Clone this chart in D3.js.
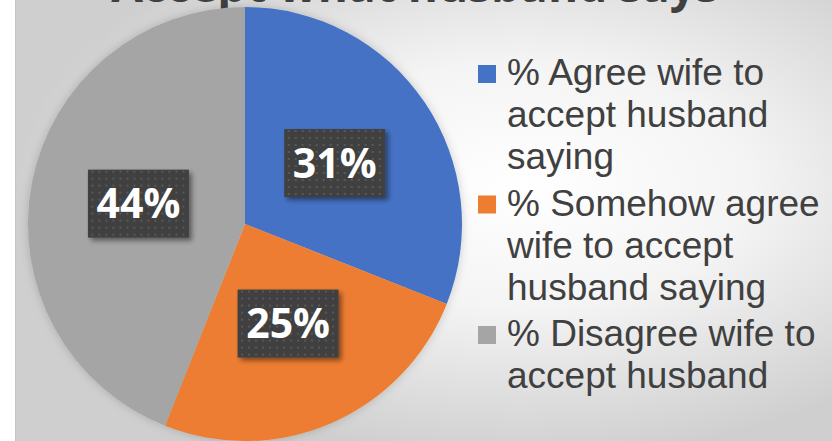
<!DOCTYPE html>
<html>
<head>
<meta charset="utf-8">
<script src="https://cdn.jsdelivr.net/npm/d3@7"></script>
<style>
  html, body { margin: 0; padding: 0; background: #ffffff; }
  svg { display: block; }
</style>
</head>
<body>
<svg id="chart" width="832" height="441"></svg>
<script>
// Survey shares: should a wife accept what her husband says
const categories = [
  "% Agree wife to accept husband saying",
  "% Somehow agree wife to accept husband saying",
  "% Disagree wife to accept husband saying"
];
const values = [31, 25, 44];
const colors = ["#4472C4", "#ED7D31", "#A5A5A5"];
// Legend text as wrapped in the legend box (last entry is cut off by the frame)
const legendLines = [
  ["% Agree wife to", "accept husband", "saying"],
  ["% Somehow agree", "wife to accept", "husband saying"],
  ["% Disagree wife to", "accept husband", "saying"]
];
const titleText = "Accept what husband says";

const W = 832, H = 441;
const svg = d3.select("#chart");
const defs = svg.append("defs");

// Chart-area background: soft radial grey-to-white fill
const bg = defs.append("radialGradient")
  .attr("id", "bgGrad")
  .attr("cx", "0.62").attr("cy", "0.42").attr("r", "0.62");
bg.append("stop").attr("offset", "0").attr("stop-color", "#ffffff");
bg.append("stop").attr("offset", "0.45").attr("stop-color", "#f4f4f4");
bg.append("stop").attr("offset", "1").attr("stop-color", "#cfcfcf");

// Dotted texture used by the data-label boxes
const pat = defs.append("pattern")
  .attr("id", "dots").attr("patternUnits", "userSpaceOnUse")
  .attr("width", 7).attr("height", 7);
pat.append("rect").attr("width", 7).attr("height", 7).attr("fill", "#404040");
pat.append("rect").attr("x", 2).attr("y", 2).attr("width", 2).attr("height", 2).attr("fill", "#585858");

const shadow = defs.append("filter").attr("id", "shadow")
  .attr("x", "-20%").attr("y", "-20%").attr("width", "150%").attr("height", "150%");
shadow.append("feDropShadow").attr("dx", 3).attr("dy", 3).attr("stdDeviation", 2.5)
  .attr("flood-color", "#000").attr("flood-opacity", 0.45);

const pieShadow = defs.append("filter").attr("id", "pieShadow")
  .attr("x", "-10%").attr("y", "-10%").attr("width", "120%").attr("height", "120%");
pieShadow.append("feDropShadow").attr("dx", 0).attr("dy", 0).attr("stdDeviation", 5)
  .attr("flood-color", "#000").attr("flood-opacity", 0.18);

// Frame
const frameX = 15;
svg.append("rect").attr("x", 0).attr("y", 0).attr("width", W).attr("height", H).attr("fill", "#ffffff");
svg.append("rect").attr("x", frameX).attr("y", 0).attr("width", W - frameX).attr("height", H)
  .attr("fill", "url(#bgGrad)");
svg.append("line").attr("x1", frameX + 0.5).attr("x2", frameX + 0.5).attr("y1", 0).attr("y2", H)
  .attr("stroke", "#c4c4c4").attr("stroke-width", 1);

// Title (its upper part runs above the frame)
svg.append("text")
  .attr("x", 415).attr("y", 2)
  .attr("text-anchor", "middle")
  .attr("font-family", "'Open Sans', sans-serif")
  .attr("font-weight", 700)
  .attr("font-size", 46)
  .attr("fill", "#404040")
  .text(titleText);

// Pie
const cx = 245, cy = 224, R = 217;
const pie = d3.pie().sort(null).value(d => d)(values);
const arc = d3.arc().innerRadius(0).outerRadius(R);
const labelArc = d3.arc().innerRadius(R * 0.5).outerRadius(R * 0.5);

const g = svg.append("g").attr("transform", `translate(${cx},${cy})`);
g.append("g").attr("filter", "url(#pieShadow)")
  .selectAll("path").data(pie).join("path")
  .attr("d", arc)
  .attr("fill", (d, i) => colors[i]);

// Data labels in dark textured boxes
const boxW = 101, boxH = 68;
const lab = g.selectAll("g.lab").data(pie).join("g")
  .attr("class", "lab")
  .attr("transform", d => {
    const [x, y] = labelArc.centroid(d);
    return `translate(${x},${y})`;
  });
lab.append("rect")
  .attr("x", -boxW / 2).attr("y", -boxH / 2)
  .attr("width", boxW).attr("height", boxH)
  .attr("fill", "url(#dots)")
  .attr("filter", "url(#shadow)");
lab.append("text")
  .attr("text-anchor", "middle")
  .attr("dy", "0.36em")
  .attr("font-family", "'Open Sans', sans-serif")
  .attr("font-weight", 700)
  .attr("font-size", 41)
  .attr("fill", "#ffffff")
  .text(d => d.data + "%");

// Legend (lines that would fall past the bottom of the frame are dropped)
const lgX = 478, sq = 18, textX = 507;
const lineH = 42, entryGap = 4.5;
const firstBaseline = 85;
let baseline = firstBaseline;
const legend = svg.append("g");
legendLines.forEach((lines, i) => {
  const eg = legend.append("g");
  eg.append("rect")
    .attr("x", lgX).attr("y", baseline - sq - 2)
    .attr("width", sq).attr("height", sq)
    .attr("fill", colors[i]);
  const t = eg.append("text")
    .attr("font-family", "'Liberation Sans', Arial, sans-serif")
    .attr("font-size", 37)
    .attr("fill", "#404040");
  lines.forEach((ln, j) => {
    const y = baseline + j * lineH;
    if (y + 12 < H) {
      t.append("tspan").attr("x", textX).attr("y", y).text(ln);
    }
  });
  baseline += lines.length * lineH + entryGap;
});
</script>
</body>
</html>
